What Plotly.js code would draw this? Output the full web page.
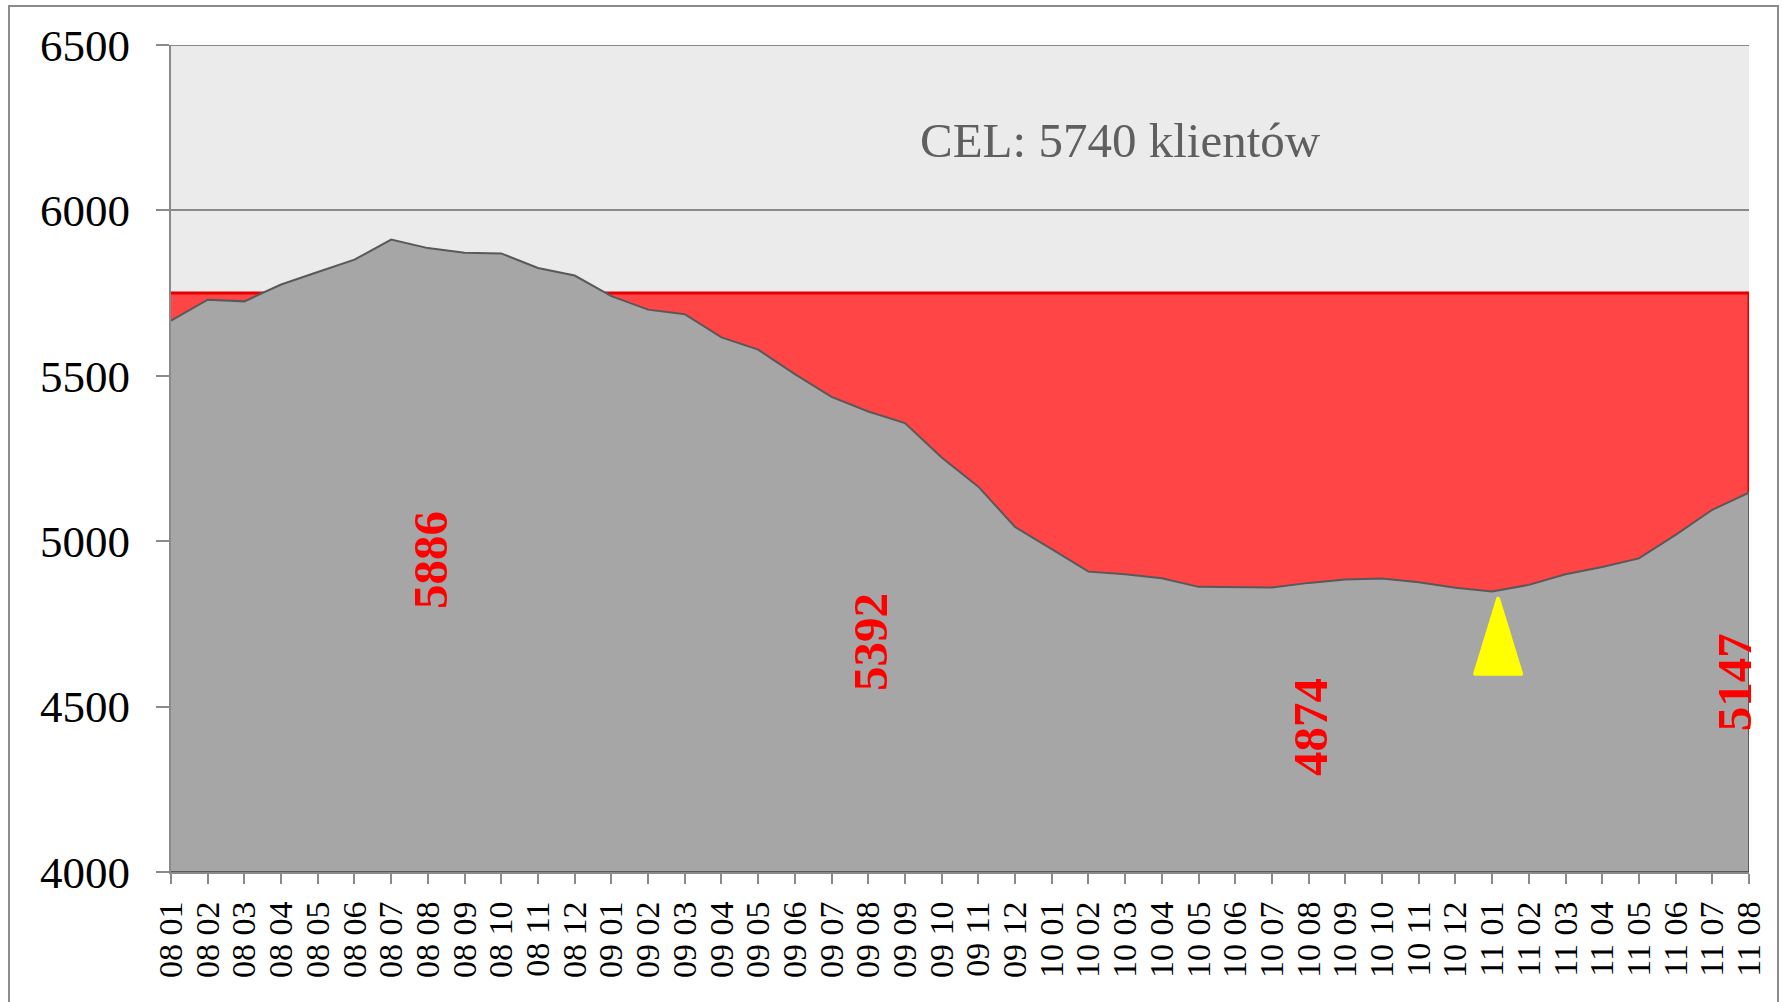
<!DOCTYPE html>
<html><head><meta charset="utf-8">
<script src="https://cdn.plot.ly/plotly-3.0.1.min.js"></script>
<style>
html,body{margin:0;padding:0;background:#fff;overflow:hidden;}
#chart{width:1783px;height:1002px;}
#frame{position:absolute;left:8px;top:5px;width:1767px;height:1100px;border:2px solid #8c8c8c;pointer-events:none;}
.shapelayer path{stroke-linejoin:round;}
</style></head>
<body><div id="chart"></div><div id="frame"></div>
<script>
// ---- data ----
const months = ['08 01','08 02','08 03','08 04','08 05','08 06','08 07','08 08','08 09','08 10','08 11','08 12',
                '09 01','09 02','09 03','09 04','09 05','09 06','09 07','09 08','09 09','09 10','09 11','09 12',
                '10 01','10 02','10 03','10 04','10 05','10 06','10 07','10 08','10 09','10 10','10 11','10 12',
                '11 01','11 02','11 03','11 04','11 05','11 06','11 07','11 08'];
const clients = [5667,5730,5725,5776,5814,5851,5912,5886,5872,5870,5826,5803,
                 5741,5700,5686,5616,5579,5505,5436,5392,5357,5253,5165,5043,
                 4976,4908,4900,4888,4862,4862,4860,4874,4884,4887,4876,4859,
                 4848,4868,4900,4922,4948,5019,5095,5147];
const target = 5750;
const labelMonths = ['08 08','09 08','10 08','11 08'];
const labelValues = [5886,5392,4874,5147];
const goalText = 'CEL: 5740 klientów';
const yTicks = [4000,4500,5000,5500,6000,6500];
const axisMin = 4000, axisMax = 6500;
const pointerMonth = '11 01';
const pointerBase = 4593;

// ---- build ----
const polyX = months.concat(months.slice().reverse());
const targetPoly = months.map(() => target).concat(months.map(() => axisMin));
const clientPoly = clients.concat(months.map(() => axisMin));

const FONT = 'Liberation Serif, Times New Roman, serif';

const traces = [
  {x: polyX, y: targetPoly, type: 'scatter', mode: 'lines', fill: 'toself',
   fillcolor: '#FF4545', line: {color: '#E60000', width: 3}, hoverinfo: 'skip'},
  {x: polyX, y: clientPoly, type: 'scatter', mode: 'lines', fill: 'toself',
   fillcolor: '#A6A6A6', line: {color: '#595959', width: 2}, hoverinfo: 'skip'}
];

const annotations = labelMonths.map((m, k) => ({
  x: m, y: (axisMin + labelValues[k]) / 2, xref: 'x', yref: 'y',
  text: String(labelValues[k]), showarrow: false, textangle: -90,
  xshift: k === labelMonths.length - 1 ? -15 : 2,
  font: {family: FONT, size: 49, color: '#FF0000', weight: 700}
}));
annotations.push({
  xref: 'paper', yref: 'paper', x: 0.602, y: 0.885, xanchor: 'center', yanchor: 'middle',
  text: goalText, showarrow: false, font: {family: FONT, size: 49, color: '#5f5f5f'}
});

const layout = {
  width: 1783, height: 1002,
  margin: {l: 171, r: 34, t: 45, b: 130, pad: 0},
  paper_bgcolor: '#ffffff', plot_bgcolor: '#EBEBEB',
  showlegend: false,
  font: {family: FONT, color: '#000'},
  xaxis: {
    type: 'category', range: [0, months.length - 1],
    tickmode: 'array', tickvals: months, ticktext: months,
    tickangle: -90, ticks: 'outside', ticklen: 10, tickwidth: 2, tickcolor: '#8a8a8a',
    showline: true, linecolor: '#8a8a8a', linewidth: 2, showgrid: false, zeroline: false,
    tickfont: {family: FONT, size: 34, color: '#000'}, ticklabelstandoff: 4, fixedrange: true
  },
  yaxis: {
    range: [axisMin, axisMax], tickvals: yTicks,
    ticks: 'outside', ticklen: 13, tickwidth: 2, tickcolor: '#8a8a8a',
    showline: true, linecolor: '#8a8a8a', linewidth: 2,
    showgrid: true, gridcolor: '#8a8a8a', gridwidth: 2, zeroline: false,
    tickfont: {family: FONT, size: 45, color: '#000'}, ticklabelstandoff: 17, fixedrange: true
  },
  annotations: annotations,
  shapes: [
    {type: 'line', xref: 'paper', yref: 'y', x0: 0, x1: 1, y0: axisMax, y1: axisMax,
     line: {color: '#8a8a8a', width: 2}, layer: 'below'},
    {type: 'path', xref: 'x', yref: 'y', xsizemode: 'pixel', ysizemode: 'pixel',
     xanchor: pointerMonth, yanchor: pointerBase,
     path: 'M -17,2 L 6,77 L 29,2 Z',
     fillcolor: '#FFFF00', line: {color: '#FFFF00', width: 4}, layer: 'above'}
  ]
};

Plotly.newPlot('chart', traces, layout, {staticPlot: true, displayModeBar: false});
</script>
</body></html>
